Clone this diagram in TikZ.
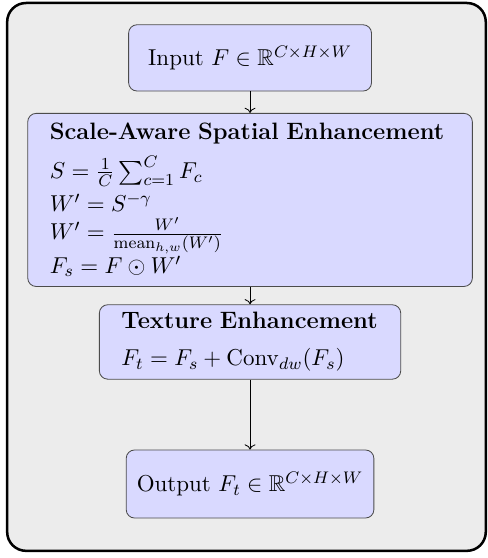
\documentclass[11pt,tikz,border=0pt]{standalone}
\usepackage{amsmath,amssymb}
\usetikzlibrary{arrows.meta}

\begin{document}
\begin{tikzpicture}[->, >=To,
	blockbox/.style={draw=black!70, fill=blue!15, rounded corners},
	titled/.style={blockbox, align=left, inner xsep=0.37cm}]

	\useasboundingbox (0,0) rectangle (8.17,-9.35);
	\draw[-, very thick, rounded corners=9pt, fill=gray!15] (0.12,-0.05) rectangle (8.14,-9.23);

	\node[blockbox, minimum width=4.07cm, minimum height=1.11cm] (A) at (4.19,-0.97) {Input $F \in \mathbb{R}^{C\times H\times W}$};
	\node[titled, text width=6.71cm, minimum height=2.9cm] (B) at (4.19,-3.35) {\fontsize{11.3}{13.6}\selectfont\textbf{Scale-Aware Spatial Enhancement}\\[5pt]
		$S = \frac{1}{C}\sum_{c=1}^{C} F_c$\\[2pt]
		$W' = S^{-\gamma}$\\
		$W' = \frac{W'}{\mathrm{mean}_{h,w}(W')}$\\
		$F_s = F \odot W'$};
	\node[titled, text width=4.31cm, minimum height=1.24cm] (C) at (4.19,-5.73) {\fontsize{11.3}{13.6}\selectfont\textbf{Texture Enhancement}\\[4pt]
		$F_t = F_s + \mathrm{Conv}_{dw}(F_s)$};
	\node[blockbox, minimum width=4.15cm, minimum height=1.14cm] (D) at (4.19,-8.11) {Output $F_t \in \mathbb{R}^{C\times H\times W}$};

	\draw (A) -- (B);
	\draw (B) -- (C);
	\draw (C) -- (D);
\end{tikzpicture}
\end{document}
